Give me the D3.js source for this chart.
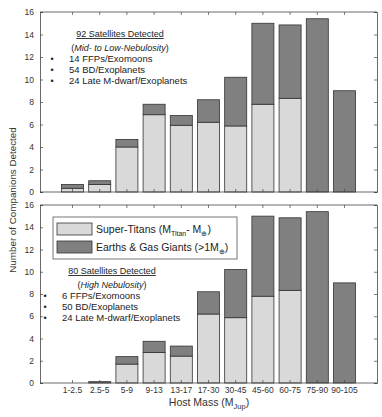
<!DOCTYPE html>
<html>
<head>
<meta charset="utf-8">
<script src="https://cdn.jsdelivr.net/npm/d3@7"></script>
<style>
  body { margin: 0; background: #fff; }
  svg { display: block; font-family: "Liberation Sans", Arial, sans-serif; }
</style>
</head>
<body>
<div id="chart"></div>
<script>
var categories = ["1-2.5", "2.5-5", "5-9", "9-13", "13-17", "17-30", "30-45", "45-60", "60-75", "75-90", "90-105"];
// top panel: mid- to low-nebulosity
var lowSuperTitans = [0.33, 0.67, 4.0, 6.87, 5.93, 6.2, 5.87, 7.8, 8.33, 0, 0];
var lowEarthsGiants = [0.34, 0.33, 0.67, 0.93, 0.87, 2.0, 4.33, 7.2, 6.52, 15.4, 9.0];
// bottom panel: high nebulosity
var highSuperTitans = [0, 0, 1.7, 2.75, 2.42, 6.2, 5.87, 7.8, 8.33, 0, 0];
var highEarthsGiants = [0, 0.12, 0.67, 1.0, 0.9, 2.0, 4.33, 7.2, 6.52, 15.4, 9.0];
var yTicks = [0, 2, 4, 6, 8, 10, 12, 14, 16];

var W = 382, H = 417;
var lightFill = "#d9d9d9", darkFill = "#808080", barStroke = "#333";

var svg = d3.select("#chart").append("svg")
    .attr("width", W)
    .attr("height", H);

var x = d3.scaleBand()
    .domain(categories)
    .range([40, 377])
    .paddingInner(0.19)
    .paddingOuter(0.79);

function drawPanel(top, bottom, light, dark, showXLabels) {
    var y = d3.scaleLinear().domain([0, 16]).range([bottom, top]);
    var g = svg.append("g");

    categories.forEach(function(c, i) {
        if (light[i] > 0) {
            g.append("rect")
                .attr("x", x(c)).attr("width", x.bandwidth())
                .attr("y", y(light[i])).attr("height", y(0) - y(light[i]))
                .attr("fill", lightFill).attr("stroke", barStroke).attr("stroke-width", 0.8);
        }
        if (dark[i] > 0) {
            g.append("rect")
                .attr("x", x(c)).attr("width", x.bandwidth())
                .attr("y", y(light[i] + dark[i])).attr("height", y(light[i]) - y(light[i] + dark[i]))
                .attr("fill", darkFill).attr("stroke", barStroke).attr("stroke-width", 0.8);
        }
    });

    // box with inward ticks on all four sides
    var left = g.append("g").attr("transform", "translate(40,0)")
        .call(d3.axisLeft(y).tickValues(yTicks).tickSize(-3).tickPadding(6));
    var right = g.append("g").attr("transform", "translate(377,0)")
        .call(d3.axisRight(y).tickValues(yTicks).tickSize(-3).tickFormat(""));
    var bot = g.append("g").attr("transform", "translate(0," + bottom + ")")
        .call(d3.axisBottom(x).tickSize(-3).tickPadding(4).tickFormat(showXLabels ? null : ""));
    var tp = g.append("g").attr("transform", "translate(0," + top + ")")
        .call(d3.axisTop(x).tickSize(-3).tickFormat(""));
    [left, right, bot, tp].forEach(function(a) {
        a.select(".domain").attr("stroke", "#444").attr("stroke-width", 0.8);
        a.selectAll(".tick line").attr("stroke", "#444").attr("stroke-width", 0.7);
        a.selectAll("text").attr("fill", "#333").attr("font-size", 8.5)
            .attr("font-family", "Liberation Sans, Arial, sans-serif");
    });
    bot.select(".domain").attr("d", "M40,0H377");
    tp.select(".domain").attr("d", "M40,0H377");
    return y;
}

drawPanel(12, 192, lowSuperTitans, lowEarthsGiants, false);
drawPanel(205, 383, highSuperTitans, highEarthsGiants, true);

function annotation(cx, ty, title, subtitle, bulletX, textX, items) {
    svg.append("text")
        .attr("x", cx).attr("y", ty)
        .attr("text-anchor", "middle")
        .attr("font-size", 9).attr("fill", "#222")
        .style("text-decoration", "underline")
        .text(title);
    svg.append("text")
        .attr("x", cx).attr("y", ty + 14)
        .attr("text-anchor", "middle")
        .attr("font-size", 9).attr("fill", "#222")
        .html("(<tspan font-style='italic'>" + subtitle + "</tspan>)");
    items.forEach(function(t, i) {
        svg.append("text")
            .attr("x", bulletX).attr("y", ty + 25 + i * 11)
            .attr("text-anchor", "middle")
            .attr("font-size", 9).attr("fill", "#222")
            .text("\u2022");
        svg.append("text")
            .attr("x", textX).attr("y", ty + 25 + i * 11)
            .attr("font-size", 9.5).attr("fill", "#222")
            .text(t);
    });
}

annotation(120, 37, "92 Satellites Detected", "Mid- to Low-Nebulosity", 52, 69,
    ["14 FFPs/Exomoons", "54 BD/Exoplanets", "24 Late M-dwarf/Exoplanets"]);
annotation(112, 274, "80 Satellites Detected", "High Nebulosity", 45, 62,
    ["6 FFPs/Exomoons", "50 BD/Exoplanets", "24 Late M-dwarf/Exoplanets"]);

// legend
var leg = svg.append("g");
leg.append("rect")
    .attr("x", 53).attr("y", 217).attr("width", 184).attr("height", 42)
    .attr("fill", "#fff").attr("stroke", "#555").attr("stroke-width", 0.8);
leg.append("rect")
    .attr("x", 57).attr("y", 223).attr("width", 35).attr("height", 12)
    .attr("fill", lightFill).attr("stroke", barStroke).attr("stroke-width", 0.8);
leg.append("rect")
    .attr("x", 57).attr("y", 241).attr("width", 35).attr("height", 12)
    .attr("fill", darkFill).attr("stroke", barStroke).attr("stroke-width", 0.8);
leg.append("text")
    .attr("x", 96).attr("y", 233)
    .attr("font-size", 10.5).attr("fill", "#222")
    .html("Super-Titans (M<tspan font-size='7' dy='3'>Titan</tspan><tspan dy='-3'>- M</tspan><tspan font-size='7' dy='3'>\u2295</tspan><tspan dy='-3'>)</tspan>");
leg.append("text")
    .attr("x", 96).attr("y", 251)
    .attr("font-size", 10.5).attr("fill", "#222")
    .html("Earths &amp; Gas Giants (&gt;1M<tspan font-size='7' dy='3'>\u2295</tspan><tspan dy='-3'>)</tspan>");

// axis titles
svg.append("text")
    .attr("transform", "translate(16,200) rotate(-90)")
    .attr("text-anchor", "middle")
    .attr("font-size", 9.8).attr("fill", "#333")
    .text("Number of Companions Detected");
svg.append("text")
    .attr("x", 209).attr("y", 406)
    .attr("text-anchor", "middle")
    .attr("font-size", 10.5).attr("fill", "#333")
    .html("Host Mass (M<tspan font-size='7.5' dy='3'>Jup</tspan><tspan dy='-3'>)</tspan>");
</script>
</body>
</html>
